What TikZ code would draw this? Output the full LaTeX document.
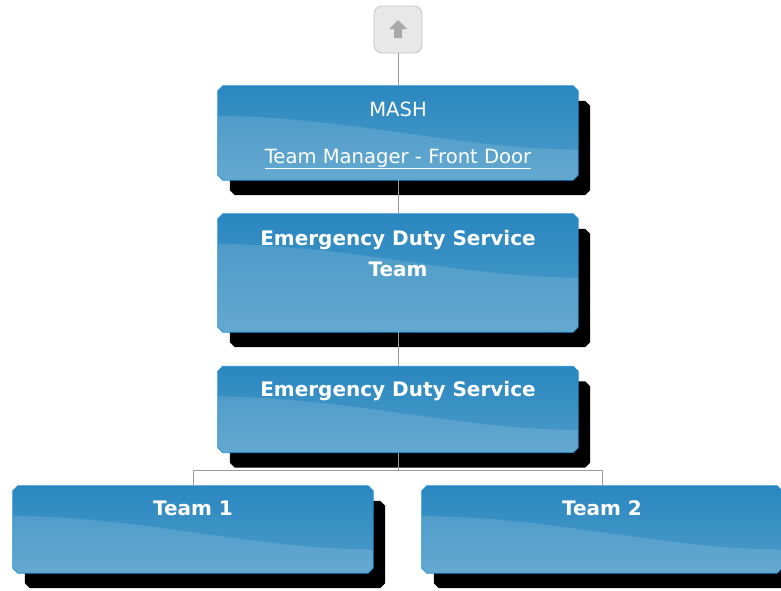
\documentclass[tikz,border=0pt]{standalone}
\usepackage{fontspec}
\setmainfont{DejaVu Sans}
\usetikzlibrary{shadows}
\definecolor{boxtop}{HTML}{2A87C0}
\definecolor{boxbot}{HTML}{4E9DC9}
\definecolor{boxedge}{HTML}{1C8AD2}
\definecolor{linegray}{HTML}{9A9A9A}
\definecolor{btnfill}{HTML}{E8E8E8}
\definecolor{btnedge}{HTML}{C4C4C4}
\definecolor{arrowgray}{HTML}{A8A8A8}
\tikzset{
  boxanchor/.style={rectangle, inner sep=0pt, minimum width=360pt, draw=none},
  boxpath/.style={draw=boxedge, line width=0.8pt,
    top color=boxtop, bottom color=boxbot,
    general shadow={fill=black, shadow xshift=12pt, shadow yshift=-15pt},
    path picture={\fill[white,opacity=0.13]
      ([yshift=-30pt]path picture bounding box.north west)
      .. controls ([xshift=140pt,yshift=-32pt]path picture bounding box.north west)
      and ([xshift=-130pt,yshift=-62pt]path picture bounding box.north east) ..
      ([yshift=-64pt]path picture bounding box.north east)
      -- (path picture bounding box.south east) -- (path picture bounding box.south west) -- cycle;}},
  conn/.style={draw=linegray, line width=1pt},
  titletxt/.style={text=white, font=\fontsize{20}{22}\selectfont\bfseries, anchor=base, inner sep=0pt},
  plaintxt/.style={text=white, font=\fontsize{19.6}{22}\selectfont, anchor=base, inner sep=0pt},
  btn/.style={draw=btnedge, fill=btnfill, rounded corners=8pt, minimum width=48pt, minimum height=47pt, line width=0.8pt}
}
\newcommand\chbox[1]{%
  \path[boxpath] ([xshift=5pt]#1.north west) -- ([xshift=-5pt]#1.north east)
    -- ([yshift=-5pt]#1.north east) -- ([yshift=5pt]#1.south east)
    -- ([xshift=-5pt]#1.south east) -- ([xshift=5pt]#1.south west)
    -- ([yshift=5pt]#1.south west) -- ([yshift=-5pt]#1.north west) -- cycle;}
\begin{document}
\begin{tikzpicture}[x=1pt,y=-1pt]
\useasboundingbox (0,0) rectangle (781,590);
\node[btn] (up) at (398,29.5) {};
\fill[arrowgray] (398,20) -- (407,29) -- (402,29) -- (402,38) -- (394,38) -- (394,29) -- (389,29) -- cycle;

\node[boxanchor, minimum height=94pt] (mash) at (398,133) {};
\node[boxanchor, minimum height=118pt] (edst) at (398,273) {};
\node[boxanchor, minimum height=86pt] (eds) at (398,409.5) {};
\node[boxanchor, minimum height=87pt] (team1) at (193,529.5) {};
\node[boxanchor, minimum height=87pt] (team2) at (602,529.5) {};
\chbox{mash}
\chbox{edst}
\chbox{eds}
\chbox{team1}
\chbox{team2}

\node[plaintxt] (mashtxt) at (398,116) {MASH};
\node[plaintxt] (tmtxt) at (398,163) {\underline{Team Manager - Front Door}};
\node[titletxt] (edst1) at (398,245) {Emergency Duty Service};
\node[titletxt] (edst2) at (398,276) {Team};
\node[titletxt] (edstxt) at (398,396) {Emergency Duty Service};
\node[titletxt] (t1txt) at (193,515) {Team 1};
\node[titletxt] (t2txt) at (602,515) {Team 2};

\coordinate (junc) at (398,470);
\draw[conn] (up.south) -- (mash.north);
\draw[conn] (mash.south) -- (edst.north);
\draw[conn] (edst.south) -- (eds.north);
\draw[conn] (eds.south) -- (junc);
\draw[conn] (junc) -| (team1.north);
\draw[conn] (junc) -| (team2.north);
\end{tikzpicture}
\end{document}
